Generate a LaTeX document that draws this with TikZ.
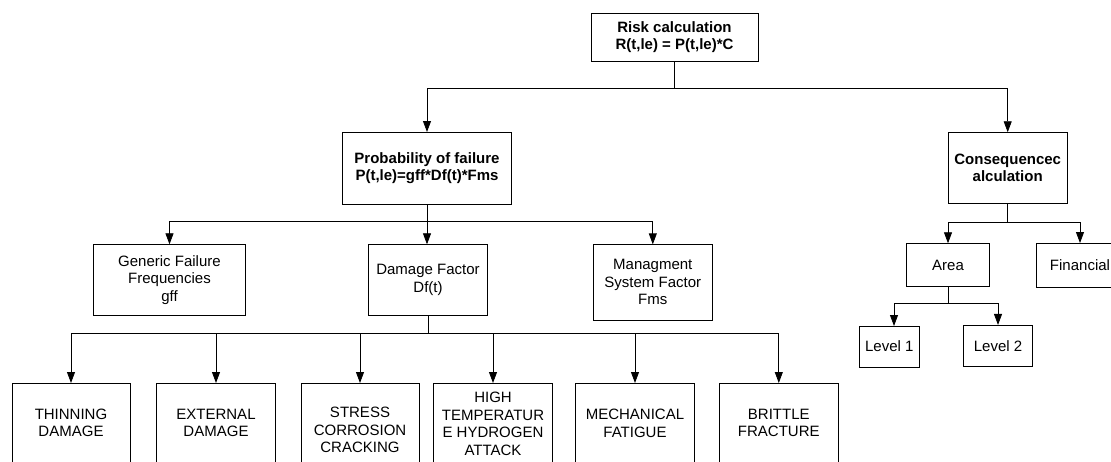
\documentclass[tikz,border=0pt]{standalone}
\usepackage{fontspec}
\setmainfont{Liberation Sans}
\usetikzlibrary{arrows.meta}
\begin{document}
\begin{tikzpicture}[x=1pt,y=-1pt,
  box/.style={draw, line width=0.8pt, inner sep=0pt, outer sep=0pt, align=center,
    font=\fontsize{15}{17.5}\selectfont},
  bbox/.style={box, font=\fontsize{15}{17.5}\selectfont\bfseries},
  conn/.style={line width=0.8pt},
  arr/.style={conn, -{Triangle[length=11pt,width=8pt]}}]
\useasboundingbox (0,0) rectangle (1111,461);

% top
\node[bbox, minimum width=167pt, minimum height=48pt] (risk) at (674.5,37) {Risk calculation\\R(t,le) = P(t,le)*C};
\node[bbox, minimum width=169pt, minimum height=72pt] (prob) at (427,168) {Probability of failure\\P(t,le)=gff*Df(t)*Fms};
\node[bbox, minimum width=119.5pt, minimum height=71.5pt] (cons) at (1007.7,168) {Consequencec\\alculation};

% second level
\node[box, minimum width=152.4pt, minimum height=71.4pt] (gen) at (169.5,280) {Generic Failure\\Frequencies\\gff};
\node[box, minimum width=119.4pt, minimum height=71.4pt] (dam) at (428,280) {Damage Factor\\Df(t)};
\node[box, minimum width=119pt, minimum height=75.7pt] (mgmt) at (652.8,282.2) {Managment\\System Factor\\Fms};
\node[box, minimum width=82.6pt, minimum height=43.4pt] (area) at (948,265) {Area};
\node[box, minimum width=86.6pt, minimum height=44pt] (fin) at (1080,265) {Financial};
\node[box, minimum width=60pt, minimum height=41pt] (lvl1) at (889.3,346.5) {Level 1};
\node[box, minimum width=68.3pt, minimum height=41.5pt] (lvl2) at (998,345.7) {Level 2};

% bottom row
\node[box, minimum width=118pt, minimum height=80pt] (thin) at (71,423) {THINNING\\DAMAGE};
\node[box, minimum width=118.6pt, minimum height=80pt] (ext) at (216,423) {EXTERNAL\\DAMAGE};
\node[box, minimum width=118pt, minimum height=94pt] (scc) at (360,430) {STRESS\\CORROSION\\CRACKING};
\node[box, minimum width=119pt, minimum height=82pt] (htha) at (493,424) {HIGH\\TEMPERATUR\\E HYDROGEN\\ATTACK};
\node[box, minimum width=118.6pt, minimum height=81pt] (mech) at (635,423.5) {MECHANICAL\\FATIGUE};
\node[box, minimum width=119pt, minimum height=80pt] (brit) at (778.8,423) {BRITTLE\\FRACTURE};

% junctions
\coordinate (j1) at (674.5,88);
\coordinate (j2) at (427,221.7);
\coordinate (j3) at (428,333.5);
\coordinate (j4) at (1007.7,222.7);
\coordinate (j5) at (948,303.3);

% connectors
\draw[conn] (risk.south) -- (j1);
\draw[arr] (j1) -| (prob.north);
\draw[arr] (j1) -| (cons.north);

\draw[conn] (prob.south) -- (j2);
\draw[arr] (j2) -| (gen.north);
\draw[arr] (j2) -- (j2 |- dam.north);
\draw[arr] (j2) -| (mgmt.north);

\draw[conn] (dam.south) -- (j3);
\draw[arr] (j3) -| (thin.north);
\draw[arr] (j3) -| (ext.north);
\draw[arr] (j3) -| (scc.north);
\draw[arr] (j3) -| (htha.north);
\draw[arr] (j3) -| (mech.north);
\draw[arr] (j3) -| (brit.north);

\draw[conn] (cons.south) -- (j4);
\draw[arr] (j4) -| (area.north);
\draw[arr] (j4) -| (fin.north);

\draw[conn] (area.south) -- (j5);
\draw[arr] (j5) -| ([xshift=4.7pt]lvl1.north);
\draw[arr] (j5) -| (lvl2.north);
\end{tikzpicture}
\end{document}
